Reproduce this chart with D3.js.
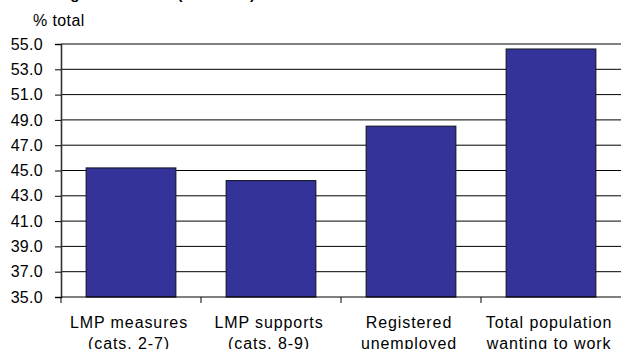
<!DOCTYPE html>
<meta charset="utf-8">
<script src="https://d3js.org/d3.v7.min.js"></script>
<style>
  body { margin: 0; background: #fff; }
  text { font-family: "Liberation Sans", Arial, sans-serif; fill: #000; }
</style>
<body>
<div id="chart"></div>
<script>
  // data
  var categories = ["LMP measures|(cats. 2-7)", "LMP supports|(cats. 8-9)", "Registered|unemployed", "Total population|wanting to work"];
  var values = [45.2, 44.2, 48.5, 54.6];
  var yTicks = [35, 37, 39, 41, 43, 45, 47, 49, 51, 53, 55];

  var W = 621, H = 349;
  var margin = { top: 44, right: 0, bottom: 52, left: 61 };
  var width = W - margin.left - margin.right,
    height = H - margin.top - margin.bottom;

  var svg = d3.select("#chart").append("svg")
    .attr("width", W).attr("height", H);

  // title, mostly off the top of the frame as in the source image
  svg.append("text")
    .attr("x", 57).attr("y", -1.5)
    .style("font-size", "15px").style("font-weight", "bold")
    .text("Figure 3  Women (% of total)");

  svg.append("text")
    .attr("x", 33).attr("y", 26)
    .style("font-size", "16px")
    .style("letter-spacing", "0.4px")
    .text("% total");

  var g = svg.append("g")
    .attr("transform", "translate(" + margin.left + "," + margin.top + ")");

  var x = d3.scaleBand().domain(categories).range([0, width])
    .paddingInner(0.36).paddingOuter(0.18);
  var xb = d3.scaleBand().domain(categories).range([0, width]);
  var y = d3.scaleLinear().domain([35, 55]).range([height, 0]);

  // gridlines
  g.append("g").selectAll("line")
    .data(yTicks.filter(function (d) { return d > 35; }))
    .enter().append("line")
    .attr("x1", 0).attr("x2", width)
    .attr("y1", function (d) { return y(d); })
    .attr("y2", function (d) { return y(d); })
    .attr("stroke", "#000").attr("stroke-width", 1);

  // bars
  g.append("g").selectAll("rect")
    .data(values)
    .enter().append("rect")
    .attr("x", function (d, i) { return x(categories[i]); })
    .attr("width", x.bandwidth())
    .attr("y", function (d) { return y(d); })
    .attr("height", function (d) { return height - y(d); })
    .attr("fill", "#333399")
    .attr("stroke", "#1a1a33").attr("stroke-width", 1.2);

  // y axis
  var yAxis = g.append("g")
    .call(d3.axisLeft(y).tickValues(yTicks).tickSize(6).tickPadding(12)
      .tickFormat(d3.format(".1f")));
  yAxis.select(".domain").attr("stroke", "#333").attr("stroke-width", 1.6);
  yAxis.selectAll("text").style("font-size", "16px").style("letter-spacing", "0.3px");

  // x axis: ticks at category boundaries
  var xa = g.append("g").attr("transform", "translate(0," + height + ")");
  xa.append("line").attr("x1", 0).attr("x2", width)
    .attr("stroke", "#000").attr("stroke-width", 1);
  xa.selectAll(".bt")
    .data(categories)
    .enter().append("line")
    .attr("x1", function (d) { return xb(d); })
    .attr("x2", function (d) { return xb(d); })
    .attr("y1", 0).attr("y2", 6)
    .attr("stroke", "#000");

  var lab = xa.selectAll(".lab")
    .data(categories)
    .enter().append("text")
    .attr("text-anchor", "middle")
    .attr("transform", function (d) { return "translate(" + (xb(d) + xb.bandwidth() / 2 - 2) + ",0)"; })
    .style("font-size", "16px")
    .style("letter-spacing", "0.9px");
  lab.append("tspan").attr("x", 0).attr("y", 31)
    .text(function (d) { return d.split("|")[0]; });
  lab.append("tspan").attr("x", 0).attr("y", 52)
    .text(function (d) { return d.split("|")[1]; });
</script>
</body>
